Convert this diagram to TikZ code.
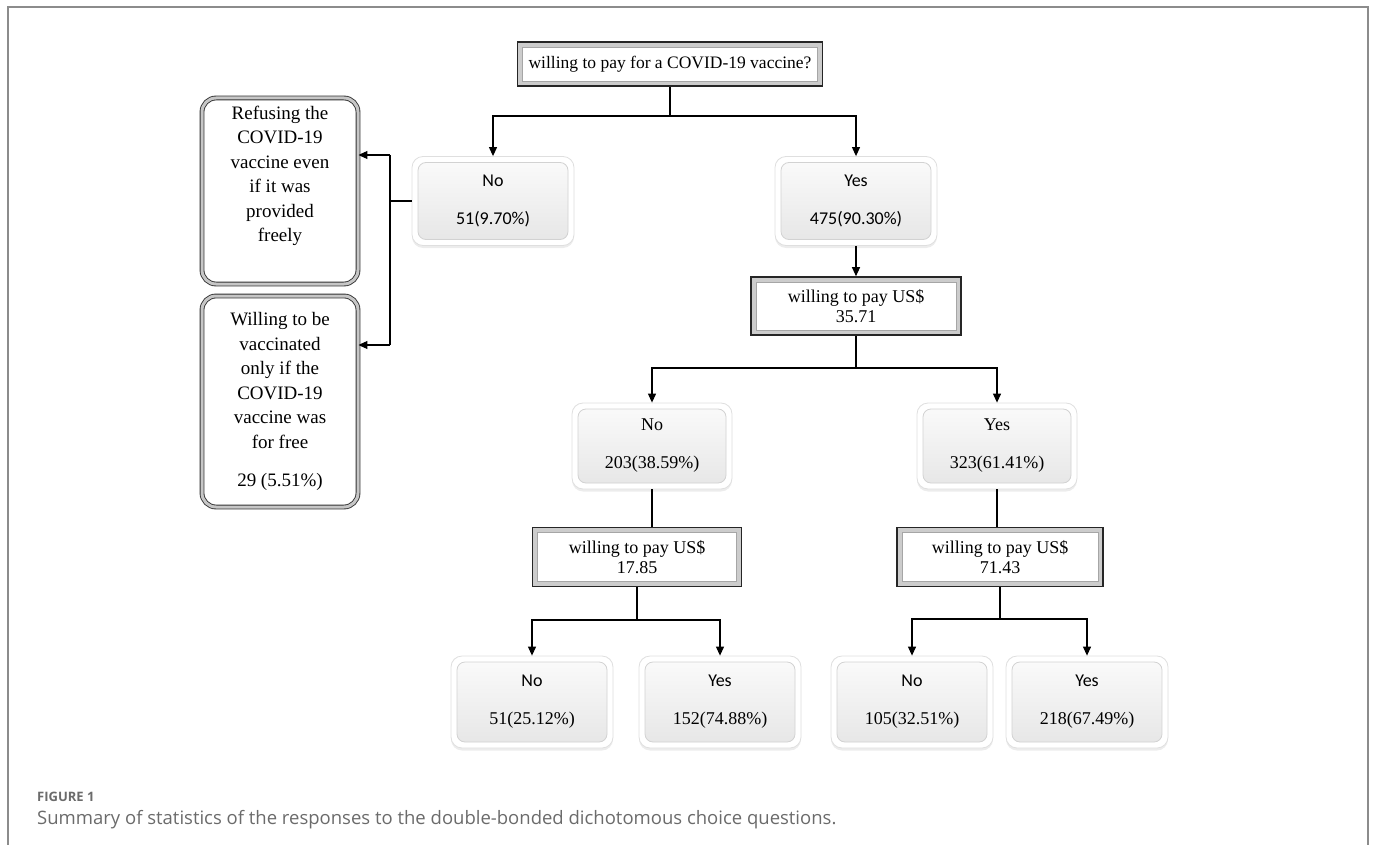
\documentclass[tikz,border=0pt]{standalone}
\usepackage{fontspec}
\setmainfont{Liberation Serif}
\newfontfamily\calibrifont{Carlito}
\newfontfamily\captionfont{Open Sans}
\usepackage{xcolor}
\usetikzlibrary{arrows.meta, shadows}

\definecolor{framegray}{gray}{0.55}
\definecolor{capgray}{gray}{0.42}

\begin{document}
\begin{tikzpicture}[x=1pt, y=-1pt,
    question/.style={rectangle, draw=black!85, line width=1.6pt, fill=white, align=center,
        inner sep=0pt, font=\fontsize{18}{20}\selectfont,
        path picture={
            \draw[gray!40, line width=4pt] ([shift={(2.8pt,-2.8pt)}]path picture bounding box.north west)
                rectangle ([shift={(-2.8pt,2.8pt)}]path picture bounding box.south east);
            \draw[gray!70, line width=0.6pt] ([shift={(5pt,-5pt)}]path picture bounding box.north west)
                rectangle ([shift={(-5pt,5pt)}]path picture bounding box.south east);}},
    answer/.style={rectangle, rounded corners=11pt, draw=gray!25, line width=0.8pt, fill=white,
        drop shadow={opacity=0.15, shadow xshift=0pt, shadow yshift=-2.5pt},
        minimum width=162pt, minimum height=89pt, align=center,
        path picture={
            \draw[rounded corners=8pt, draw=gray!35, top color=gray!3, bottom color=gray!20]
                ([shift={(6pt,-6pt)}]path picture bounding box.north west)
                rectangle ([shift={(-6pt,6pt)}]path picture bounding box.south east);}},
    note/.style={rectangle, rounded corners=14pt, draw=black!80, line width=0.9pt,
        double=gray!45, double distance=3pt, fill=white, align=center,
        font=\fontsize{19}{24.5}\selectfont, minimum width=156pt, inner sep=0pt},
    link/.style={line width=1.1pt},
    arr/.style={link, -{Triangle[length=9pt, width=8pt]}}
]
\useasboundingbox (0,0) rectangle (1375,845);

% frame
\draw[framegray, line width=2pt] (8,845) -- (8,7) -- (1368,7) -- (1368,845);

% first question
\node[question, minimum width=305pt, minimum height=44pt, font=\fontsize{17.5}{20}\selectfont] (pay) at (670,64) {willing to pay for a COVID-19 vaccine?};

\node[answer, font=\calibrifont\fontsize{18}{22}\selectfont] (no1) at (493,201) {No\\[16pt]51(9.70\%)};
\node[answer, font=\calibrifont\fontsize{18}{22}\selectfont] (yes1) at (856,201) {Yes\\[16pt]475(90.30\%)};

% left notes
\node[note, minimum height=186pt] (refuse) at (280,191) {Refusing the\\COVID-19\\vaccine even\\if it was\\provided\\freely\\[3pt]\strut};
\node[note, minimum height=211pt] (willing) at (280,401.5) {Willing to be\\vaccinated\\only if the\\COVID-19\\vaccine was\\for free\\[13.5pt]29 (5.51\%)};

% second question
\node[question, minimum width=210pt, minimum height=58pt] (pay2) at (856,306) {willing to pay US\$\\35.71};

\node[answer, minimum height=86pt, minimum width=160pt, font=\fontsize{18}{22}\selectfont] (no2) at (652,446) {No\\[16pt]203(38.59\%)};
\node[answer, minimum height=86pt, minimum width=160pt, font=\fontsize{18}{22}\selectfont] (yes2) at (997,446) {Yes\\[16pt]323(61.41\%)};

% third questions
\node[question, minimum width=209pt, minimum height=59pt] (pay3) at (637,557) {willing to pay US\$\\17.85};
\node[question, minimum width=206pt, minimum height=59pt] (pay4) at (1000,557) {willing to pay US\$\\71.43};

\node[answer, minimum height=92pt, font=\fontsize{18}{22}\selectfont] (lowno) at (532,702) {{\calibrifont No}\\[16pt]51(25.12\%)};
\node[answer, minimum height=92pt, font=\fontsize{18}{22}\selectfont] (lowyes) at (720,702) {{\calibrifont Yes}\\[16pt]152(74.88\%)};
\node[answer, minimum height=92pt, font=\fontsize{18}{22}\selectfont] (highno) at (912,702) {{\calibrifont No}\\[16pt]105(32.51\%)};
\node[answer, minimum height=92pt, font=\fontsize{18}{22}\selectfont] (highyes) at (1087,702) {{\calibrifont Yes}\\[16pt]218(67.49\%)};

% connectors
\coordinate (split1) at (670,116);
\coordinate (split2) at (856,368);
\coordinate (split3) at (637,620);
\coordinate (split4) at (1000,619);
\coordinate (fork) at (390,155);
\coordinate (forkend) at (390,345);

\draw[link] (pay) -- (split1);
\draw[arr] (split1) -| (no1);
\draw[arr] (split1) -| (yes1);
\draw[arr] (yes1) -- (pay2);

\draw[link] (no1.west) -- (no1.west -| fork);
\draw[link] (fork) -- (forkend);
\draw[arr] (fork) -- (fork -| refuse.east);
\draw[arr] (forkend) -- (forkend -| willing.east);

\draw[link] (pay2) -- (split2);
\draw[arr] (split2) -| (no2);
\draw[arr] (split2) -| (yes2);
\draw[link] (no2) -- (no2 |- pay3.north);
\draw[link] (yes2) -- (yes2 |- pay4.north);

\draw[link] (pay3) -- (split3);
\draw[arr] (split3) -| (lowno);
\draw[arr] (split3) -| (lowyes);
\draw[link] (pay4) -- (split4);
\draw[arr] (split4) -| (highno);
\draw[arr] (split4) -| (highyes);

% caption
\node[anchor=base west, inner sep=0pt, text=capgray, font=\captionfont\bfseries\fontsize{13}{15}\selectfont] (figlabel) at (37,801) {FIGURE 1};
\node[anchor=base west, inner sep=0pt, text=capgray, font=\captionfont\fontsize{18.5}{22}\selectfont] (figcaption) at (37,824) {Summary of statistics of the responses to the double-bonded dichotomous choice questions.};

\end{tikzpicture}
\end{document}
